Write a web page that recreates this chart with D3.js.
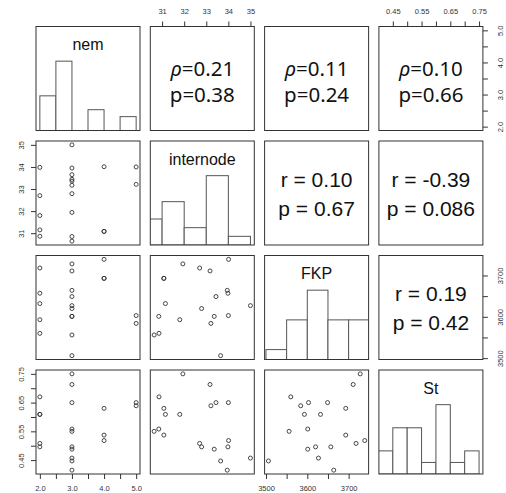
<!DOCTYPE html>
<html>
<head>
<meta charset="utf-8">
<script src="https://cdn.jsdelivr.net/npm/d3@7"></script>
<style>
  html, body { margin: 0; padding: 0; background: #fff; }
  svg { display: block; }
</style>
</head>
<body>
<svg id="chart" width="506" height="493"></svg>
<script>
// ---------------- data ----------------
const varNames = ["nem", "internode", "FKP", "St"];

const nem       = [3, 3, 2, 5, 5, 3, 4, 2, 2, 3, 3, 4, 2, 4, 3, 3, 2, 3, 3, 3];
const internode = [31.94, 33.17, 30.86, 33.21, 34.00, 33.44, 31.08, 31.80, 31.15, 30.64,
                   30.85, 31.08, 32.70, 34.01, 33.36, 32.79, 33.98, 35.00, 33.65, 33.95];
const FKP       = [3728, 3711, 3560, 3584, 3603, 3649, 3693, 3593, 3632, 3556,
                   3601, 3693, 3718, 3739, 3601, 3620, 3657, 3627, 3506, 3664];
const St        = [0.750, 0.713, 0.670, 0.639, 0.650, 0.650, 0.630, 0.609, 0.609, 0.550,
                   0.558, 0.537, 0.508, 0.518, 0.488, 0.496, 0.496, 0.457, 0.447, 0.415];

// histogram bins and counts
const nemBreaks       = [2, 2.5, 3, 3.5, 4, 4.5, 5];
const nemCounts       = [5, 10, 0, 3, 0, 2];
const internodeBreaks = [30, 31, 32, 33, 34, 35];
const internodeCounts = [3, 5, 2, 8, 1];
const FKPBreaks       = [3500, 3550, 3600, 3650, 3700, 3750];
const FKPCounts       = [1, 4, 7, 4, 4];
const StBreaks        = [0.40, 0.45, 0.50, 0.55, 0.60, 0.65, 0.70, 0.75];
const StCounts        = [2, 4, 4, 1, 6, 1, 2];

// tick values and labelled ticks
const nemTicks        = [2, 2.5, 3, 3.5, 4, 4.5, 5];
const nemLabels       = [2, 3, 4, 5];
const internodeTicks  = [31, 32, 33, 34, 35];
const internodeLabels = [31, 32, 33, 34, 35];
const FKPTicks        = [3500, 3550, 3600, 3650, 3700];
const FKPLabels       = [3500, 3600, 3700];
const StTicks         = [0.45, 0.50, 0.55, 0.60, 0.65, 0.70, 0.75];
const StLabels        = [0.45, 0.55, 0.65, 0.75];

// correlation texts (upper panels): [row, col, line1, line2, kind]
const corrRows  = [0, 0, 0, 1, 1, 2];
const corrCols  = [1, 2, 3, 2, 3, 3];
const corrLine1 = ["=0.21", "=0.11", "=0.10", "r = 0.10", "r = -0.39", "r = 0.19"];
const corrLine2 = ["p=0.38", "p=0.24", "p=0.66", "p = 0.67", "p = 0.086", "p = 0.42"];
const corrKind  = ["rho", "rho", "rho", "r", "r", "r"];

// ---------------- layout ----------------
const left0 = 36, colStep = 114.3, top0 = 26.5, rowStep = 114.5, P = 104;
const colX = i => left0 + i * colStep;
const rowY = i => top0 + i * rowStep;

const values = [nem, internode, FKP, St];
const breaks = [nemBreaks, internodeBreaks, FKPBreaks, StBreaks];
const counts = [nemCounts, internodeCounts, FKPCounts, StCounts];
const ticks  = [nemTicks, internodeTicks, FKPTicks, StTicks];
const labels = [nemLabels, internodeLabels, FKPLabels, StLabels];
const fmt    = [d3.format(".1f"), d3.format("d"), d3.format("d"), d3.format(".2f")];

function padded(arr) {
  const [a, b] = d3.extent(arr);
  const d = (b - a) * 0.04;
  return [a - d, b + d];
}
const domains = values.map(padded);
const xScale = domains.map(dm => d3.scaleLinear().domain(dm).range([0, P]));
const yScale = domains.map(dm => d3.scaleLinear().domain(dm).range([P, 0]));
const hScale = d3.scaleLinear().domain([0, 1.5]).range([P, 0]);

const svg = d3.select("#chart");
const defs = svg.append("defs");
defs.append("clipPath").attr("id", "pclip")
  .append("rect").attr("x", 0).attr("y", 0).attr("width", P).attr("height", P);

const ink = "#333";
const n = values.length;

for (let r = 0; r < n; r++) {
  for (let c = 0; c < n; c++) {
    const g = svg.append("g").attr("transform", `translate(${colX(c)},${rowY(r)})`);
    const inner = g.append("g").attr("clip-path", "url(#pclip)");

    if (r === c) {
      // histogram
      const br = breaks[r], ct = counts[r], mx = d3.max(ct);
      const bins = ct.map((k, i) => ({ x0: br[i], x1: br[i + 1], h: k / mx }));
      inner.selectAll("rect.bar").data(bins).enter().append("rect")
        .attr("class", "bar")
        .attr("x", d => xScale[c](d.x0))
        .attr("width", d => xScale[c](d.x1) - xScale[c](d.x0))
        .attr("y", d => hScale(d.h))
        .attr("height", d => hScale(0) - hScale(d.h))
        .attr("fill", "#fff")
        .attr("stroke", "#555")
        .attr("stroke-width", 1);
      g.append("text")
        .attr("x", P / 2).attr("y", 23.5)
        .attr("text-anchor", "middle")
        .attr("font-family", "Liberation Sans, Arial, sans-serif")
        .attr("font-size", 16)
        .attr("fill", "#111")
        .text(varNames[r]);
    } else if (r > c) {
      // scatter: x = var c, y = var r
      const pts = values[c].map((v, i) => [v, values[r][i]]);
      inner.selectAll("circle").data(pts).enter().append("circle")
        .attr("cx", d => xScale[c](d[0]))
        .attr("cy", d => yScale[r](d[1]))
        .attr("r", 2)
        .attr("fill", "none")
        .attr("stroke", ink)
        .attr("stroke-width", 0.9);
    } else {
      const k = d3.range(corrRows.length).find(i => corrRows[i] === r && corrCols[i] === c);
      const isRho = corrKind[k] === "rho";
      const family = isRho ? "Noto Sans, Open Sans, sans-serif" : "Liberation Sans, Arial, sans-serif";
      const fs = isRho ? 20.5 : 21;
      const b1 = isRho ? 49.5 : 45.8, b2 = isRho ? 75.8 : 74.6;
      const t1 = g.append("text")
        .attr("x", P / 2 + (isRho ? 0 : 0)).attr("y", b1)
        .attr("text-anchor", "middle")
        .attr("font-family", family).attr("font-size", fs).attr("fill", "#111");
      if (isRho) {
        t1.append("tspan").attr("font-style", "italic").text("\u03C1");
      }
      t1.append("tspan").text(corrLine1[k]);
      g.append("text")
        .attr("x", P / 2).attr("y", b2)
        .attr("text-anchor", "middle")
        .attr("font-family", family).attr("font-size", fs).attr("fill", "#111")
        .text(corrLine2[k]);
    }

    // panel box
    g.append("rect").attr("x", 0).attr("y", 0).attr("width", P).attr("height", P)
      .attr("fill", "none").attr("stroke", ink).attr("stroke-width", 1);
  }
}

// ---------------- axes ----------------
function styleAxis(sel) {
  sel.select(".domain").remove();
  sel.selectAll(".tick line").attr("stroke", ink).attr("stroke-width", 1);
  sel.selectAll(".tick text")
    .attr("font-family", "Liberation Sans, Arial, sans-serif")
    .attr("font-size", 7.5)
    .attr("fill", ink);
}
function labelFmt(i) {
  return v => labels[i].some(l => Math.abs(l - v) < 1e-9) ? fmt[i](v) : "";
}

for (let i = 0; i < n; i++) {
  if (i % 2 === 1) {
    // top axis for columns 2 and 4
    const ax = svg.append("g").attr("transform", `translate(${colX(i)},${rowY(0)})`)
      .call(d3.axisTop(xScale[i]).tickValues(ticks[i]).tickFormat(labelFmt(i)).tickSize(5).tickSizeOuter(0));
    styleAxis(ax);
    ax.selectAll(".tick text").attr("y", -12.5).attr("dy", 0);
    // left axis for rows 2 and 4
    const ay = svg.append("g").attr("transform", `translate(${colX(0)},${rowY(i)})`)
      .call(d3.axisLeft(yScale[i]).tickValues(ticks[i]).tickFormat(labelFmt(i)).tickSize(5).tickSizeOuter(0));
    styleAxis(ay);
    ay.selectAll(".tick text")
      .attr("x", 0).attr("y", 0).attr("dy", 0)
      .attr("text-anchor", "middle")
      .attr("transform", "translate(-12,0) rotate(-90)");
  } else {
    // bottom axis for columns 1 and 3
    const ax = svg.append("g").attr("transform", `translate(${colX(i)},${rowY(n - 1) + P})`)
      .call(d3.axisBottom(xScale[i]).tickValues(ticks[i]).tickFormat(labelFmt(i)).tickSize(5).tickSizeOuter(0));
    styleAxis(ax);
    ax.selectAll(".tick text").attr("y", 16.5).attr("dy", 0);
    // right axis for rows 1 and 3
    const ay = svg.append("g").attr("transform", `translate(${colX(n - 1) + P},${rowY(i)})`)
      .call(d3.axisRight(yScale[i]).tickValues(ticks[i]).tickFormat(labelFmt(i)).tickSize(5).tickSizeOuter(0));
    styleAxis(ay);
    ay.selectAll(".tick text")
      .attr("x", 0).attr("y", 0).attr("dy", 0)
      .attr("text-anchor", "middle")
      .attr("transform", "translate(20.5,0) rotate(-90)");
  }
}
</script>
</body>
</html>
